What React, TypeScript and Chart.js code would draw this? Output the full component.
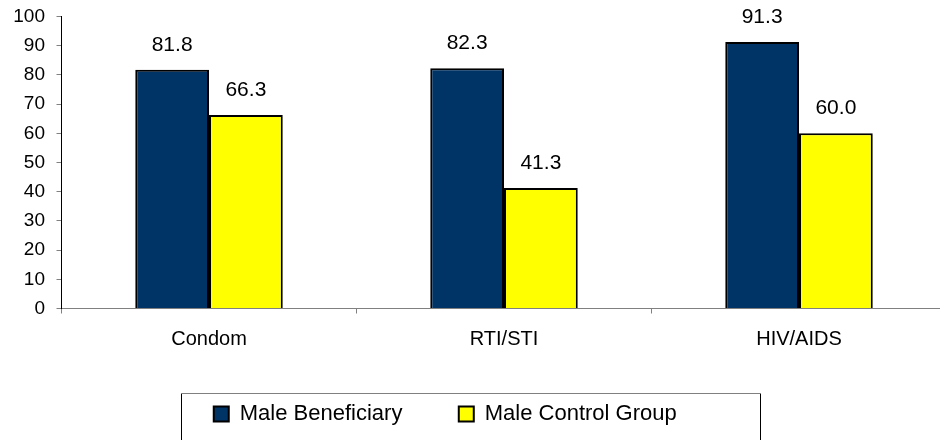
import { useEffect, useRef } from "react";
import { Chart, registerables } from "chart.js";

Chart.register(...registerables);

const categories = ["Condom", "RTI/STI", "HIV/AIDS"];
const seriesNames = ["Male Beneficiary", "Male Control Group"];
const beneficiaryValues = [81.8, 82.3, 91.3];
const controlValues = [66.3, 41.3, 60.0];
const yMin = 0;
const yMax = 100;
const yStep = 10;

const FONT = '"Liberation Sans", Arial, sans-serif';

const dataLabelPlugin = {
  id: "dataLabels",
  afterDatasetsDraw(chart: any) {
    const ctx = chart.ctx;
    ctx.save();
    ctx.font = `21px ${FONT}`;
    ctx.fillStyle = "#000";
    ctx.textAlign = "center";
    ctx.textBaseline = "alphabetic";
    chart.data.datasets.forEach((ds: any, i: number) => {
      const meta = chart.getDatasetMeta(i);
      meta.data.forEach((el: any, j: number) => {
        ctx.fillText(Number(ds.data[j]).toFixed(1), el.x, el.y - 19);
      });
    });
    ctx.restore();
  },
};

const legendBorderPlugin = {
  id: "legendBorder",
  afterDraw(chart: any) {
    const lg = chart.legend;
    if (!lg || !lg.legendHitBoxes || !lg.legendHitBoxes.length) return;
    const hb = lg.legendHitBoxes;
    const first = hb[0];
    const last = hb[hb.length - 1];
    const left = Math.round(first.left - 33) + 0.5;
    const right = Math.round(last.left + last.width + 83) + 0.5;
    const top = Math.round(first.top - 10.5) + 0.5;
    const bottom = chart.height + 5;
    const ctx = chart.ctx;
    ctx.save();
    ctx.lineWidth = 1;
    ctx.strokeStyle = "#000";
    ctx.beginPath();
    ctx.moveTo(left, bottom);
    ctx.lineTo(left, top);
    ctx.moveTo(right, top);
    ctx.lineTo(right, bottom);
    ctx.stroke();
    ctx.strokeStyle = "#808080";
    ctx.beginPath();
    ctx.moveTo(left, top);
    ctx.lineTo(right, top);
    ctx.stroke();
    ctx.restore();
  },
};

export default function App() {
  const ref = useRef<HTMLCanvasElement>(null);

  useEffect(() => {
    if (!ref.current) return;
    const chart = new Chart(ref.current, {
      type: "bar",
      data: {
        labels: categories,
        datasets: [
          {
            label: seriesNames[0],
            data: beneficiaryValues,
            backgroundColor: "#003366",
            borderColor: "#000",
            borderWidth: 2,
            categoryPercentage: 0.5,
            barPercentage: 1,
          },
          {
            label: seriesNames[1],
            data: controlValues,
            backgroundColor: "#FFFF00",
            borderColor: "#000",
            borderWidth: 2,
            categoryPercentage: 0.5,
            barPercentage: 1,
          },
        ],
      },
      options: {
        animation: false,
        responsive: true,
        maintainAspectRatio: false,
        devicePixelRatio: 1,
        layout: { padding: { top: 16.5, right: 7.5, bottom: 5, left: 0 } },
        plugins: {
          tooltip: { enabled: false },
          legend: {
            position: "bottom",
            labels: {
              boxWidth: 15,
              boxHeight: 15,
              padding: 56.4,
              color: "#000",
              font: { size: 22, family: FONT },
            },
          },
        },
        scales: {
          x: {
            afterFit: (s: any) => {
              s.height = 38.1;
            },
            grid: {
              drawOnChartArea: false,
              tickLength: 5,
              color: "#808080",
            },
            border: { color: "#808080", width: 1 },
            ticks: {
              color: "#000",
              padding: 13.5,
              font: { size: 20, family: FONT },
            },
          },
          y: {
            min: yMin,
            max: yMax,
            afterFit: (s: any) => {
              s.width = 117.5;
            },
            grid: {
              drawOnChartArea: false,
              tickLength: 5,
              color: "#808080",
            },
            border: { color: "#000", width: 1 },
            ticks: {
              stepSize: yStep,
              color: "#000",
              padding: 11.5,
              font: { size: 19, family: FONT, lineHeight: 0.4 },
            },
          },
        },
      },
      plugins: [dataLabelPlugin, legendBorderPlugin],
    } as any);
    return () => chart.destroy();
  }, []);

  return (
    <div
      style={{
        position: "fixed",
        left: 0,
        top: 0,
        width: 940,
        height: 440,
        overflow: "hidden",
        background: "#fff",
      }}
    >
      <div style={{ position: "absolute", left: -56, top: 0, width: 1010, height: 440 }}>
        <canvas ref={ref} />
      </div>
    </div>
  );
}
